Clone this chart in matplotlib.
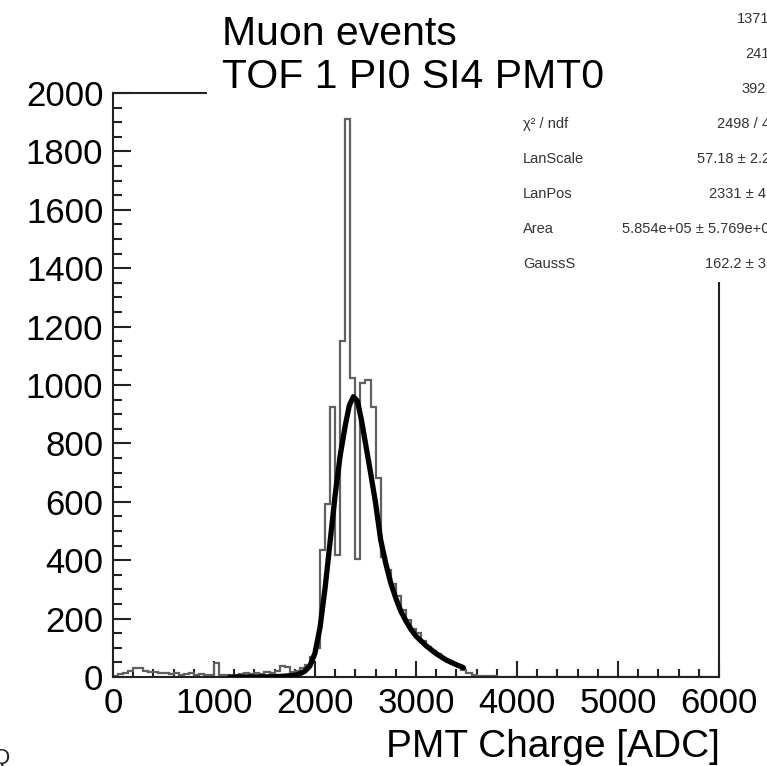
import numpy as np
import matplotlib
matplotlib.use('Agg')
import matplotlib.pyplot as plt
from matplotlib.patches import Rectangle
from matplotlib.ticker import MultipleLocator

plt.rcParams['font.family'] = ['Liberation Sans', 'DejaVu Sans']

# ---------------- data ----------------
bin_edges = np.linspace(0, 6000, 121)          # 50 ADC bins
counts = [
    4, 10, 14, 22, 32, 30, 22, 18, 16, 12,        # 0 - 500
    14, 10, 12, 8, 10, 12, 8, 10, 6, 8,           # 500 - 1000
    48, 6, 8, 5, 7, 10, 12, 9, 14, 11,            # 1000 - 1500
    16, 13, 22, 38, 34, 18, 22, 30, 42, 70,       # 1500 - 2000
    100, 435, 592, 925, 418, 1150, 1910, 1024, 404, 1007,   # 2000 - 2500
    1017, 925, 682, 411, 365, 320, 278, 230, 195, 165,      # 2500 - 3000
    150, 122, 104, 88, 78, 64, 54, 44, 36, 24,    # 3000 - 3500
    12, 7, 5, 3, 2, 2, 1, 1, 0, 1,                # 3500 - 4000
    0, 0, 1, 0, 0, 0, 0, 0, 0, 0,                 # 4000 - 4500
    0, 0, 0, 0, 0, 0, 0, 0, 0, 0,                 # 4500 - 5000
    0, 0, 0, 0, 0, 0, 0, 0, 0, 0,                 # 5000 - 5500
    0, 0, 0, 0, 0, 0, 0, 0, 0, 0,                 # 5500 - 6000
]

fit_x = [1160, 1400, 1600, 1700, 1800, 1850, 1900, 1950, 2000, 2050,
         2100, 2150, 2200, 2250, 2300, 2340, 2380, 2420, 2460, 2500,
         2550, 2600, 2650, 2700, 2750, 2800, 2850, 2900, 2950, 3000,
         3100, 3200, 3300, 3400, 3470]
fit_y = [0, 0, 1, 3, 6, 11, 20, 38, 82, 170,
         305, 465, 625, 760, 862, 930, 960, 945, 880, 800,
         700, 595, 470, 390, 322, 270, 225, 192, 163, 140,
         107, 80, 58, 42, 32]

title_lines = ["Muon events", "TOF 1 PI0 SI4 PMT0"]
xlabel = "PMT Charge [ADC]"

# first three rows (Entries, Mean, RMS) have their labels hidden by the title box
stat_labels = ["", "", "", "χ² / ndf", "LanScale", "LanPos", "Area", "GaussS"]
stat_values = ["13717", "2415", "392.6", "2498 / 46", "57.18 ± 2.25", "2331 ± 4.3",
               "5.854e+05 ± 5.769e+03", "162.2 ± 3.1"]

# ---------------- figure ----------------
W, H = 767, 766
fig = plt.figure(figsize=(W / 100, H / 100), dpi=100)
fig.patch.set_facecolor('white')


def fx(p):
    return p / W


def fy(p):
    return 1 - p / H


ax = fig.add_axes([fx(113), fy(677), fx(719) - fx(113), fy(93) - fy(677)])
ax.stairs(counts, bin_edges, color='#606060', lw=1.6, zorder=2)
ax.plot(fit_x, fit_y, color='black', lw=3.8, solid_joinstyle='round',
        solid_capstyle='round', zorder=3)

ax.set_xlim(0, 6000)
ax.set_ylim(0, 2000)
ax.xaxis.set_major_locator(MultipleLocator(1000))
ax.xaxis.set_minor_locator(MultipleLocator(200))
ax.yaxis.set_major_locator(MultipleLocator(200))
ax.yaxis.set_minor_locator(MultipleLocator(50))

ax.tick_params(which='both', direction='in', top=False, right=False,
               labelsize=25, width=1.5, color='#222222', labelcolor='black')
ax.tick_params(axis='y', which='major', length=13, pad=7)
ax.tick_params(axis='y', which='minor', length=6.5)
ax.tick_params(axis='x', which='major', length=11.5, pad=7)
ax.tick_params(axis='x', which='minor', length=5.8)
for s in ax.spines.values():
    s.set_linewidth(1.5)
    s.set_color('#222222')

# x axis title (ROOT style, right aligned)
fig.text(fx(720), fy(757), xlabel, ha='right', va='baseline', fontsize=28)

# stats box
fig.add_artist(Rectangle((fx(497), fy(282)), fx(320), 282 / H + 0.01,
                         transform=fig.transFigure, facecolor='white',
                         edgecolor='none', zorder=5))
rows_y = [19, 54, 89, 124, 159, 194, 229, 264]
for lab, val, yy in zip(stat_labels, stat_values, rows_y):
    if lab:
        fig.text(fx(523), fy(yy), lab, ha='left', va='center', fontsize=10.5,
                 color='#333333', zorder=6)
    fig.text(fx(778), fy(yy), val, ha='right', va='center', fontsize=10.5,
             color='#333333', zorder=6)

# title box
fig.add_artist(Rectangle((fx(207), fy(101)), fx(728) - fx(207), 101 / H + 0.01,
                         transform=fig.transFigure, facecolor='white',
                         edgecolor='none', zorder=7))
fig.text(fx(222), fy(45), title_lines[0], ha='left', va='baseline', fontsize=29.5, zorder=8)
fig.text(fx(222), fy(88), title_lines[1], ha='left', va='baseline', fontsize=29.5, zorder=8)

# partial glyph at the bottom-left edge
fig.text(fx(-7), fy(764), "Q", ha='left', va='baseline', fontsize=16, color='#222222')

fig.savefig('out.png', dpi=100)
